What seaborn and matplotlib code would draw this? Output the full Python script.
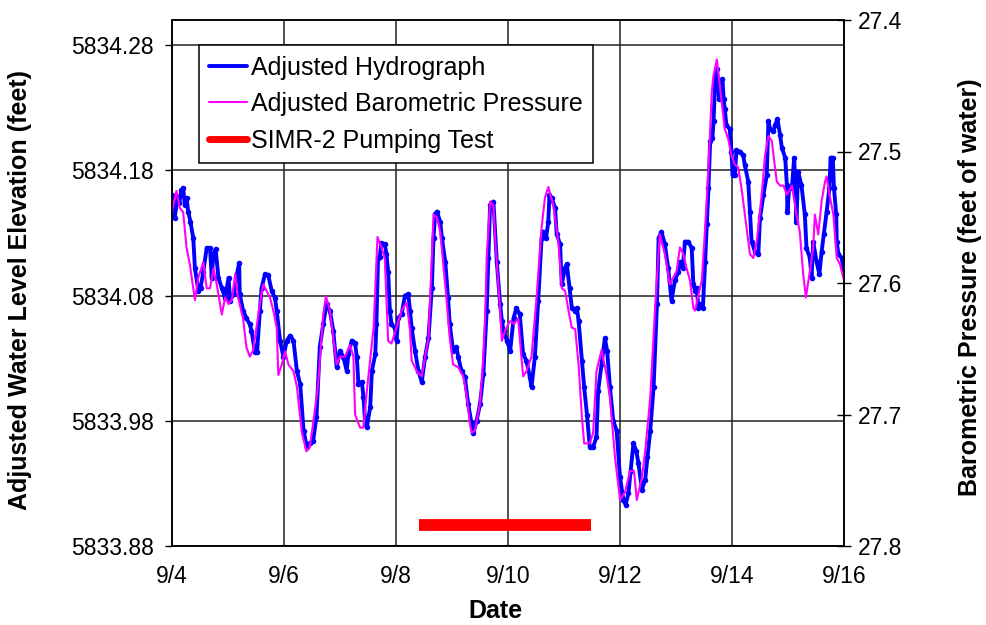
import matplotlib
matplotlib.use("Agg")
import matplotlib.pyplot as plt
import seaborn as sns
import pandas as pd

# hydrograph (days after 9/4 00:00, adjusted water level elevation in feet)
hydro_day = [0.00, 0.05, 0.10, 0.13, 0.17, 0.20, 0.23, 0.26, 0.29, 0.33, 0.38, 0.41, 0.47, 0.51,
             0.56, 0.62, 0.68, 0.71, 0.74, 0.78, 0.83, 0.89, 0.95, 1.01, 1.04, 1.10, 1.16, 1.20,
             1.21, 1.27, 1.33, 1.39, 1.42, 1.48, 1.52, 1.57, 1.60, 1.66, 1.72, 1.78, 1.84, 1.87,
             1.93, 1.99, 2.05, 2.11, 2.17, 2.23, 2.29, 2.35, 2.41, 2.46, 2.52, 2.58, 2.64, 2.70,
             2.76, 2.82, 2.88, 2.94,
             3.00, 3.06, 3.12, 3.15, 3.21, 3.27, 3.30, 3.33, 3.39, 3.42, 3.45, 3.48, 3.54, 3.57,
             3.63, 3.65, 3.68, 3.71, 3.74, 3.80, 3.83, 3.86, 3.89, 3.92, 3.98, 4.01, 4.04, 4.10,
             4.16, 4.22, 4.25, 4.28, 4.34, 4.40, 4.46, 4.52, 4.58, 4.64, 4.67, 4.70, 4.73, 4.79,
             4.82, 4.88, 4.93, 4.96, 5.02, 5.08, 5.11, 5.17, 5.23, 5.29, 5.35, 5.38, 5.44, 5.50,
             5.56, 5.62, 5.65, 5.68, 5.74, 5.80, 5.86, 5.89, 5.92, 5.98,
             6.04, 6.10, 6.15, 6.21, 6.27, 6.33, 6.39, 6.42, 6.48, 6.54, 6.60, 6.63, 6.68, 6.72,
             6.74, 6.78, 6.84, 6.87, 6.93, 6.96, 7.02, 7.05, 7.10, 7.14, 7.20, 7.23, 7.26, 7.32,
             7.36, 7.41, 7.46, 7.52, 7.58, 7.61, 7.67, 7.73, 7.77, 7.82, 7.88, 7.94, 8.00, 8.06,
             8.10, 8.15, 8.19, 8.24, 8.29, 8.33, 8.39, 8.45, 8.49, 8.54, 8.60, 8.66, 8.69, 8.74,
             8.80, 8.86, 8.92, 8.98, 9.04,
             9.07, 9.12, 9.16, 9.22, 9.28, 9.31, 9.34, 9.37, 9.40, 9.44, 9.48, 9.52, 9.55, 9.58,
             9.61, 9.65, 9.67, 9.70, 9.73, 9.77, 9.83, 9.85, 9.87, 9.90, 9.96, 9.99, 10.01, 10.05,
             10.08, 10.14, 10.20, 10.23, 10.29, 10.32, 10.35, 10.41, 10.47, 10.50, 10.56, 10.62,
             10.65, 10.68, 10.74, 10.77, 10.81, 10.86, 10.89, 10.95, 10.98, 10.99, 11.02, 11.07,
             11.11, 11.14, 11.15, 11.18, 11.24, 11.30, 11.33, 11.39, 11.42, 11.45, 11.51, 11.56,
             11.60, 11.64, 11.69, 11.74, 11.76, 11.80, 11.82, 11.86, 11.87, 11.90, 11.96, 12.00]
hydro_ft = [5834.160, 5834.142, 5834.159, 5834.154, 5834.164, 5834.166, 5834.152, 5834.158,
            5834.147, 5834.139, 5834.126, 5834.102, 5834.084, 5834.086, 5834.099, 5834.118,
            5834.118, 5834.094, 5834.113, 5834.117, 5834.094, 5834.086, 5834.078, 5834.094,
            5834.076, 5834.081, 5834.097, 5834.106, 5834.081, 5834.068, 5834.062, 5834.057,
            5834.052, 5834.035, 5834.035, 5834.068, 5834.086, 5834.097, 5834.096, 5834.084,
            5834.078, 5834.068, 5834.044, 5834.031, 5834.044, 5834.048, 5834.044, 5834.020,
            5834.009, 5833.972, 5833.959, 5833.962, 5833.964, 5833.983, 5834.039, 5834.057,
            5834.073, 5834.068, 5834.052, 5834.023,
            5834.036, 5834.031, 5834.020, 5834.033, 5834.044, 5834.042, 5834.031, 5834.009,
            5834.011, 5833.999, 5833.978, 5833.975, 5833.991, 5834.020, 5834.033, 5834.057,
            5834.110, 5834.111, 5834.122, 5834.121, 5834.113, 5834.099, 5834.068, 5834.057,
            5834.054, 5834.044, 5834.062, 5834.065, 5834.080, 5834.081, 5834.068, 5834.054,
            5834.036, 5834.020, 5834.011, 5834.031, 5834.046, 5834.086, 5834.126, 5834.145,
            5834.147, 5834.139, 5834.126, 5834.107, 5834.078, 5834.057, 5834.036, 5834.039,
            5834.031, 5834.020, 5834.015, 5833.993, 5833.978, 5833.970, 5833.980, 5833.993,
            5834.017, 5834.068, 5834.110, 5834.152, 5834.155, 5834.107, 5834.073, 5834.060,
            5834.052, 5834.044,
            5834.036, 5834.062, 5834.070, 5834.065, 5834.033, 5834.028, 5834.015, 5834.007,
            5834.031, 5834.076, 5834.126, 5834.131, 5834.126, 5834.139, 5834.160, 5834.158,
            5834.150, 5834.129, 5834.121, 5834.089, 5834.102, 5834.105, 5834.086, 5834.070,
            5834.068, 5834.070, 5834.060, 5834.028, 5834.007, 5833.985, 5833.959, 5833.959,
            5833.967, 5834.004, 5834.025, 5834.046, 5834.036, 5834.007, 5833.980, 5833.972,
            5833.935, 5833.917, 5833.913, 5833.922, 5833.940, 5833.962, 5833.956, 5833.946,
            5833.925, 5833.933, 5833.951, 5833.972, 5834.007, 5834.073, 5834.126, 5834.131,
            5834.121, 5834.102, 5834.076, 5834.092, 5834.099,
            5834.107, 5834.102, 5834.123, 5834.123, 5834.118, 5834.089, 5834.084, 5834.086,
            5834.070, 5834.073, 5834.070, 5834.107, 5834.137, 5834.166, 5834.203, 5834.206,
            5834.219, 5834.251, 5834.261, 5834.237, 5834.253, 5834.237, 5834.229, 5834.216,
            5834.213, 5834.195, 5834.176, 5834.176, 5834.196, 5834.195, 5834.192, 5834.184,
            5834.171, 5834.147, 5834.123, 5834.115, 5834.113, 5834.142, 5834.160, 5834.176,
            5834.219, 5834.213, 5834.211, 5834.216, 5834.221, 5834.208, 5834.198, 5834.190,
            5834.168, 5834.147, 5834.166, 5834.166, 5834.190, 5834.158, 5834.139, 5834.179,
            5834.168, 5834.145, 5834.118, 5834.110, 5834.094, 5834.123, 5834.107, 5834.097,
            5834.115, 5834.129, 5834.147, 5834.166, 5834.190, 5834.190, 5834.166, 5834.145,
            5834.123, 5834.113, 5834.110, 5834.097]

# adjusted barometric pressure (feet of water, right axis)
baro_day = [0.00, 0.08, 0.14, 0.20, 0.26, 0.32, 0.41, 0.47, 0.56, 0.62, 0.68, 0.74, 0.80, 0.89,
            0.95, 1.01, 1.07, 1.13, 1.18, 1.27, 1.33, 1.39, 1.45, 1.57, 1.63, 1.69, 1.75, 1.81,
            1.87, 1.90, 1.96, 2.02, 2.08, 2.17, 2.23, 2.32, 2.40, 2.46, 2.52, 2.61, 2.70, 2.75,
            2.82, 2.88, 2.94,
            3.00, 3.09, 3.18, 3.24, 3.27, 3.36, 3.42, 3.48, 3.60, 3.67, 3.74, 3.80, 3.86, 3.92,
            4.01, 4.10, 4.19, 4.25, 4.28, 4.37, 4.46, 4.52, 4.58, 4.64, 4.67, 4.73, 4.79, 4.90,
            4.96, 5.02, 5.11, 5.20, 5.26, 5.32, 5.35, 5.41, 5.50, 5.56, 5.59, 5.62, 5.68, 5.74,
            5.77, 5.86, 5.89, 5.95, 6.01,
            6.04, 6.11, 6.18, 6.27, 6.33, 6.42, 6.51, 6.60, 6.66, 6.72, 6.81, 6.90, 6.96, 7.02,
            7.08, 7.14, 7.20, 7.26, 7.32, 7.36, 7.46, 7.52, 7.58, 7.67, 7.76, 7.82, 7.91, 8.00,
            8.09, 8.18, 8.25, 8.30, 8.39, 8.45, 8.54, 8.63, 8.71, 8.80, 8.89, 9.01,
            9.07, 9.13, 9.19, 9.25, 9.31, 9.34, 9.40, 9.46, 9.52, 9.58, 9.64, 9.67, 9.73, 9.77,
            9.83, 9.87, 9.93, 9.99, 10.05, 10.11, 10.17, 10.23, 10.32, 10.38, 10.44, 10.53,
            10.59, 10.65, 10.71, 10.80, 10.86, 10.92, 10.98, 11.07, 11.15, 11.21, 11.27, 11.32,
            11.39, 11.45, 11.48, 11.54, 11.60, 11.66, 11.69, 11.75, 11.81, 11.87, 11.93, 12.00]
baro_ft = [27.546, 27.530, 27.543, 27.546, 27.573, 27.586, 27.613, 27.596, 27.584, 27.604,
           27.604, 27.589, 27.601, 27.624, 27.611, 27.616, 27.613, 27.593, 27.611, 27.627,
           27.649, 27.656, 27.651, 27.616, 27.601, 27.606, 27.611, 27.621, 27.634, 27.670,
           27.662, 27.652, 27.662, 27.667, 27.679, 27.714, 27.728, 27.725, 27.707, 27.677,
           27.624, 27.610, 27.621, 27.642, 27.662,
           27.656, 27.656, 27.647, 27.656, 27.700, 27.710, 27.710, 27.682, 27.634, 27.565,
           27.573, 27.581, 27.644, 27.646, 27.634, 27.621, 27.615, 27.636, 27.659, 27.667,
           27.671, 27.656, 27.642, 27.581, 27.548, 27.550, 27.561, 27.611, 27.642, 27.662,
           27.664, 27.671, 27.685, 27.707, 27.714, 27.712, 27.692, 27.656, 27.627, 27.581,
           27.538, 27.541, 27.566, 27.621, 27.644, 27.636, 27.631,
           27.629, 27.631, 27.627, 27.671, 27.667, 27.656, 27.611, 27.558, 27.535, 27.527,
           27.541, 27.569, 27.604, 27.606, 27.621, 27.634, 27.635, 27.662, 27.702, 27.722,
           27.722, 27.714, 27.667, 27.651, 27.670, 27.687, 27.732, 27.765, 27.759, 27.743,
           27.743, 27.765, 27.748, 27.728, 27.687, 27.616, 27.563, 27.578, 27.601, 27.591,
           27.573, 27.578, 27.589, 27.598, 27.619, 27.621, 27.609, 27.598, 27.558, 27.512,
           27.454, 27.442, 27.430, 27.445, 27.468, 27.483, 27.490, 27.503, 27.510, 27.512,
           27.528, 27.548, 27.578, 27.581, 27.569, 27.533, 27.503, 27.488, 27.492, 27.523,
           27.526, 27.526, 27.533, 27.526, 27.548, 27.561, 27.593, 27.611, 27.591, 27.573,
           27.548, 27.563, 27.538, 27.523, 27.519, 27.535, 27.548, 27.581, 27.586, 27.598]

# SIMR-2 pumping test period (days after 9/4) and the level it is drawn at
pump_day = [4.41, 7.48]
pump_ft = [5833.897, 5833.897]

date_ticks = [0, 2, 4, 6, 8, 10, 12]
date_labels = ['9/4', '9/6', '9/8', '9/10', '9/12', '9/14', '9/16']
elev_ticks = [5833.88, 5833.98, 5834.08, 5834.18, 5834.28]
press_ticks = [27.4, 27.5, 27.6, 27.7, 27.8]

hydro = pd.DataFrame({'day': hydro_day, 'elev': hydro_ft})
baro = pd.DataFrame({'day': baro_day, 'press': baro_ft})
pump = pd.DataFrame({'day': pump_day, 'elev': pump_ft})

sns.set_style('white')
plt.rcParams['font.family'] = ['Liberation Sans', 'DejaVu Sans']
plt.rcParams['text.color'] = 'black'
plt.rcParams['axes.labelcolor'] = 'black'
plt.rcParams['xtick.color'] = 'black'
plt.rcParams['ytick.color'] = 'black'

fig = plt.figure(figsize=(9.86, 6.25), dpi=100)
ax = fig.add_axes([0.1744, 0.1264, 0.6816, 0.8416])
ax2 = ax.twinx()

sns.lineplot(data=hydro, x='day', y='elev', ax=ax, color='#0000ff', linewidth=2.8,
             marker='o', markersize=4, markeredgewidth=0, sort=False, estimator=None,
             label='Adjusted Hydrograph', legend=False)
sns.lineplot(data=pump, x='day', y='elev', ax=ax, color='#ff0000', linewidth=8.5,
             solid_capstyle='butt', sort=False, estimator=None,
             label='SIMR-2 Pumping Test', legend=False)
sns.lineplot(data=baro, x='day', y='press', ax=ax2, color='#ff00ff', linewidth=1.5,
             sort=False, estimator=None, label='Adjusted Barometric Pressure', legend=False)

ax.set_xlim(0, 12)
ax.set_ylim(5833.88, 5834.30)
ax.set_xticks(date_ticks)
ax.set_xticklabels(date_labels)
ax.set_yticks(elev_ticks)
ax.set_yticklabels([f'{v:.2f}' for v in elev_ticks])
ax.grid(True, color='#222222', linewidth=1.1)
ax.tick_params(axis='both', direction='out', length=5, width=1, color='black',
               labelcolor='black', labelsize=16.5, pad=8)
ax.tick_params(axis='x', pad=9)

ax2.set_ylim(27.8, 27.4)
ax2.set_yticks(press_ticks)
ax2.set_yticklabels([f'{v:.1f}' for v in press_ticks])
ax2.tick_params(axis='y', direction='inout', length=10, width=1, color='black',
                labelcolor='black', labelsize=16.5, pad=5)
ax2.grid(False)

for a in (ax, ax2):
    for s in a.spines.values():
        s.set_color('black')
        s.set_linewidth(1.1)

ax.set_xlabel('Date', fontsize=18, fontweight='bold', color='black')
ax.xaxis.set_label_coords(0.482, -0.101)
ax.set_ylabel('Adjusted Water Level Elevation (feet)', fontsize=18, fontweight='bold',
              color='black')
ax.yaxis.set_label_coords(-0.208, 0.486)
ax2.set_ylabel('Barometric Pressure (feet of water)', fontsize=18, fontweight='bold',
               rotation=90, color='black')
ax2.yaxis.set_label_coords(1.170, 0.492)

h1, l1 = ax.get_legend_handles_labels()
h2, l2 = ax2.get_legend_handles_labels()
handles = [h1[0], h2[0], h1[1]]
labels = [l1[0], l2[0], l1[1]]
leg = ax2.legend(handles, labels, loc='upper left', bbox_to_anchor=(0.040, 0.952),
                 borderaxespad=0, fontsize=18, frameon=True, fancybox=False,
                 framealpha=1, edgecolor='black', handlelength=1.5, handletextpad=0.15,
                 labelspacing=0.5, borderpad=0.42)
leg.get_frame().set_linewidth(1.1)
for t in leg.get_texts():
    t.set_color('black')
for line in leg.get_lines():
    line.set_marker('None')
leg.get_lines()[2].set_linewidth(5)
leg.get_lines()[2].set_solid_capstyle('round')

fig.savefig('out.png', dpi=100)
